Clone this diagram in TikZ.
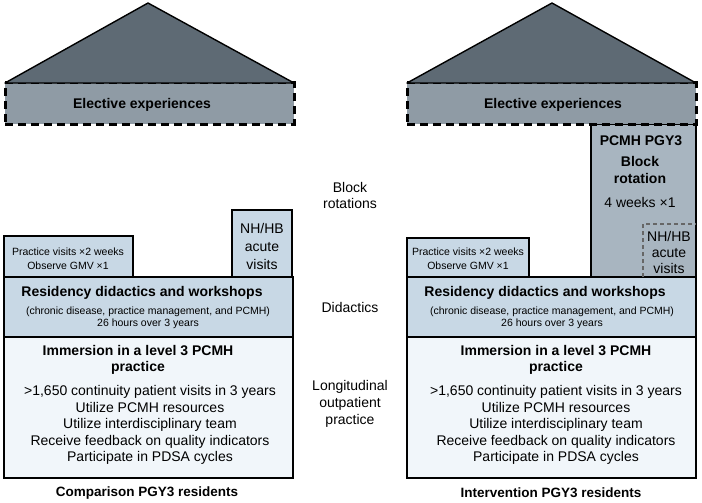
\documentclass[tikz,border=0pt]{standalone}
\usepackage{fontspec}
\setmainfont{Liberation Sans}
\usetikzlibrary{fit}
\definecolor{roofc}{RGB}{94,106,116}
\definecolor{electc}{RGB}{143,155,165}
\definecolor{bluec}{RGB}{200,216,229}
\definecolor{immc}{RGB}{241,246,250}
\definecolor{pcmhc}{RGB}{168,181,192}
\begin{document}
\begin{tikzpicture}[x=1pt,y=-1pt,
  box/.style={draw=black,line width=2.8pt,inner sep=0pt,rectangle},
  elect/.style={draw=black,line width=3pt,dash pattern=on 8pt off 5pt,fill=electc,inner sep=0pt,rectangle},
  roof/.style={draw=black,line width=1.4pt,fill=roofc,line join=round},
  bt/.style={font=\fontsize{14}{16.5}\selectfont\bfseries,align=center,inner sep=0pt},
  rt/.style={font=\fontsize{14}{16.5}\selectfont,align=center,inner sep=0pt},
  st/.style={font=\fontsize{10.5}{12}\selectfont,align=center,inner sep=0pt},
  inner/.style={draw=black!60,line width=1.2pt,dash pattern=on 4pt off 3pt}
]
\useasboundingbox (0,0) rectangle (702,503);

% ---------------- Left column ----------------
\node[elect,fit={(5,83) (294,124)}] (elecL) {};
\draw[roof] (5,83) -- (148,3) -- (294,83) -- cycle;
\node[bt] (elecLt) at (142,105) {Elective experiences};

\node[box,fill=immc,fit={(4,337) (293,478)}] (immL) {};
\node[box,fill=bluec,fit={(4,277) (293,337)}] (didL) {};
\node[box,fill=bluec,fit={(4,236) (133,277)}] (pracL) {};
\node[box,fill=bluec,fit={(232,210) (292,277)}] (nhL) {};

\node[st,font=\fontsize{10.5}{14}\selectfont] (pracLt) at (68,259) {Practice visits ×2 weeks\\Observe GMV ×1};
\node[rt,font=\fontsize{14}{18}\selectfont] (nhLt) at (262,246) {NH/HB\\acute\\visits};
\node[bt] (didLt) at (142,293) {Residency didactics and workshops};
\node[st] (didLs) at (148,318) {(chronic disease, practice management, and PCMH)\\26 hours over 3 years};
\node[bt] (immLt) at (138,360) {Immersion in a level 3 PCMH\\practice};
\node[rt] (immLs) at (150,425) {>1,650 continuity patient visits in 3 years\\Utilize PCMH resources\\Utilize interdisciplinary team\\Receive feedback on quality indicators\\Participate in PDSA cycles};
\node[bt,font=\fontsize{13.5}{16}\selectfont\bfseries] (capL) at (147,493) {Comparison PGY3 residents};

% ---------------- Middle labels ----------------
\node[rt,font=\fontsize{14}{16}\selectfont] (lblBlock) at (350,195) {Block\\rotations};
\node[rt] (lblDid) at (350,307) {Didactics};
\node[rt,font=\fontsize{14}{17}\selectfont] (lblLong) at (350,404) {Longitudinal\\outpatient\\practice};

% ---------------- Right column ----------------
\node[box,fill=pcmhc,fit={(591,124) (696,277)}] (pcmh) {};
\node[elect,fit={(407,83) (696,124)}] (elecR) {};
\draw[roof] (407,83) -- (552,3) -- (696,83) -- cycle;
\node[bt] (elecRt) at (553,105) {Elective experiences};

\node[box,fill=immc,fit={(407,337) (696,478)}] (immR) {};
\node[box,fill=bluec,fit={(407,277) (696,337)}] (didR) {};
\node[box,fill=bluec,fit={(407,238) (529,277)}] (pracR) {};

\coordinate (dA) at (643,277);
\coordinate (dB) at (643,224);
\coordinate (dC) at (696,224);
\draw[inner] (dA) -- (dB) -- (dC);

\node[bt] (pcmhT) at (641,141) {PCMH PGY3};
\node[bt,font=\fontsize{14}{17}\selectfont\bfseries] (pcmhB) at (640,170) {Block\\rotation};
\node[rt] (pcmhW) at (640,202) {4 weeks ×1};
\node[rt,font=\fontsize{14}{16}\selectfont] (nhRt) at (669,252) {NH/HB\\acute\\visits};

\node[st,font=\fontsize{10.5}{14}\selectfont] (pracRt) at (468,259) {Practice visits ×2 weeks\\Observe GMV ×1};
\node[bt] (didRt) at (545,293) {Residency didactics and workshops};
\node[st] (didRs) at (552,318) {(chronic disease, practice management, and PCMH)\\26 hours over 3 years};
\node[bt] (immRt) at (556,360) {Immersion in a level 3 PCMH\\practice};
\node[rt] (immRs) at (556,425) {>1,650 continuity patient visits in 3 years\\Utilize PCMH resources\\Utilize interdisciplinary team\\Receive feedback on quality indicators\\Participate in PDSA cycles};
\node[bt,font=\fontsize{13.5}{16}\selectfont\bfseries] (capR) at (551,493) {Intervention PGY3 residents};
\end{tikzpicture}
\end{document}
